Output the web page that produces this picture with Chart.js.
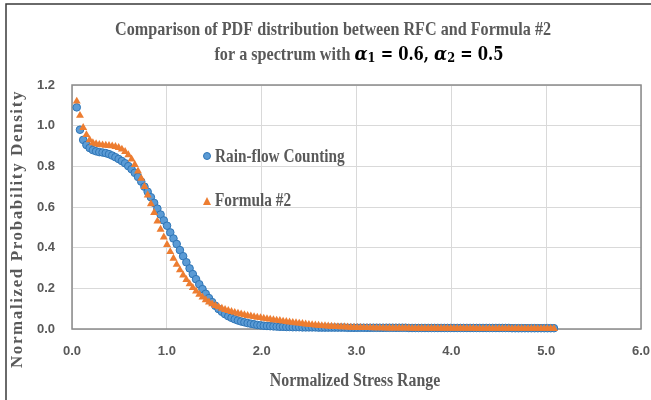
<!DOCTYPE html>
<html>
<head>
<meta charset="utf-8">
<script src="https://cdn.jsdelivr.net/npm/chart.js@4"></script>
<style>
html,body{margin:0;padding:0;background:#fff}
</style>
</head>
<body>
<canvas id="grafico" width="651" height="400"></canvas>
<script>
// normalized stress range (bin centres)
const stressRange = [
  0.050,0.084,0.118,0.152,0.186,0.220,0.254,0.288,0.322,0.356,
  0.390,0.424,0.458,0.492,0.526,0.560,0.594,0.628,0.662,0.696,
  0.730,0.764,0.798,0.832,0.866,0.900,0.934,0.968,1.002,1.036,
  1.070,1.104,1.138,1.172,1.206,1.240,1.274,1.308,1.342,1.376,
  1.410,1.444,1.478,1.512,1.546,1.580,1.614,1.648,1.682,1.716,
  1.750,1.784,1.818,1.852,1.886,1.920,1.954,1.988,2.022,2.056,
  2.090,2.124,2.158,2.192,2.226,2.260,2.294,2.328,2.362,2.396,
  2.430,2.464,2.498,2.532,2.566,2.600,2.634,2.668,2.702,2.736,
  2.770,2.804,2.838,2.872,2.906,2.940,2.974,3.008,3.042,3.076,
  3.110,3.144,3.178,3.212,3.246,3.280,3.314,3.348,3.382,3.416,
  3.450,3.484,3.518,3.552,3.586,3.620,3.654,3.688,3.722,3.756,
  3.790,3.824,3.858,3.892,3.926,3.960,3.994,4.028,4.062,4.096,
  4.130,4.164,4.198,4.232,4.266,4.300,4.334,4.368,4.402,4.436,
  4.470,4.504,4.538,4.572,4.606,4.640,4.674,4.708,4.742,4.776,
  4.810,4.844,4.878,4.912,4.946,4.980,5.014,5.048,5.082
];

// Rain-flow Counting
const rainflow = [
  1.090,0.980,0.930,0.905,0.890,0.880,0.874,0.870,0.868,0.865,
  0.860,0.853,0.845,0.836,0.826,0.815,0.801,0.786,0.768,0.748,
  0.725,0.700,0.675,0.648,0.620,0.592,0.563,0.534,0.508,0.475,
  0.445,0.418,0.388,0.358,0.328,0.298,0.270,0.245,0.220,0.196,
  0.173,0.152,0.132,0.114,0.098,0.085,0.073,0.063,0.055,0.048,
  0.042,0.037,0.033,0.029,0.026,0.023,0.020,0.018,0.016,0.015,
  0.014,0.013,0.012,0.011,0.011,0.010,0.010,0.009,0.009,0.009,
  0.008,0.008,0.008,0.008,0.008,0.007,0.007,0.007,0.007,0.007,
  0.007,0.007,0.007,0.007,0.006,0.006,0.006,0.006,0.006,0.006,
  0.006,0.006,0.006,0.006,0.006,0.006,0.006,0.006,0.006,0.006,
  0.006,0.006,0.006,0.005,0.005,0.005,0.005,0.005,0.005,0.005,
  0.005,0.005,0.005,0.005,0.005,0.005,0.005,0.005,0.005,0.005,
  0.005,0.005,0.005,0.005,0.005,0.005,0.005,0.005,0.005,0.005,
  0.005,0.005,0.005,0.005,0.005,0.004,0.004,0.004,0.004,0.004,
  0.004,0.004,0.004,0.004,0.004,0.004,0.004,0.004,0.004
];

// Formula #2
const formula2 = [
  1.120,1.050,0.990,0.955,0.930,0.915,0.910,0.907,0.905,0.903,
  0.902,0.900,0.897,0.892,0.884,0.872,0.856,0.835,0.808,0.776,
  0.740,0.700,0.658,0.615,0.572,0.530,0.490,0.452,0.415,0.380,
  0.347,0.317,0.290,0.265,0.243,0.222,0.203,0.186,0.170,0.156,
  0.143,0.132,0.123,0.115,0.108,0.101,0.095,0.090,0.085,0.081,
  0.077,0.073,0.069,0.066,0.063,0.060,0.057,0.055,0.052,0.050,
  0.048,0.045,0.043,0.041,0.038,0.036,0.034,0.032,0.030,0.028,
  0.026,0.024,0.022,0.021,0.019,0.018,0.016,0.015,0.014,0.013,
  0.012,0.011,0.010,0.010,0.009,0.008,0.008,0.007,0.007,0.006,
  0.006,0.006,0.005,0.005,0.005,0.005,0.004,0.004,0.004,0.004,
  0.004,0.004,0.004,0.004,0.003,0.003,0.003,0.003,0.003,0.003,
  0.003,0.003,0.003,0.003,0.003,0.003,0.003,0.003,0.003,0.003,
  0.003,0.003,0.003,0.003,0.002,0.002,0.002,0.002,0.002,0.002,
  0.002,0.002,0.002,0.002,0.002,0.002,0.002,0.002,0.002,0.002,
  0.002,0.002,0.002,0.002,0.002,0.002,0.002,0.002,0.002
];

const seriesNames = ['Rain-flow Counting', 'Formula #2'];
const titleLine1 = 'Comparison of PDF distribution between RFC and Formula #2';
const xTitle = 'Normalized Stress Range';
const yTitle = 'Normalized Probability Density';

const GRAY = '#595959';
const BLUE = '#5b9bd5';
const BLUE_EDGE = '#2e75b6';
const ORANGE = '#ed7d31';
const SERIF = '"Liberation Serif", "Times New Roman", serif';
const TICKFONT = '"Liberation Sans", Arial, sans-serif';

function toPoints(ys) {
    return stressRange.map((x, i) => ({x: x, y: ys[i]}));
}

// draw runs of text (condensed by sx) centred on cx
function drawRuns(ctx, runs, cx, cy) {
    let total = 0;
    runs.forEach(r => {
        ctx.font = r.font;
        r.w = ctx.measureText(r.text).width * r.sx;
        total += r.w;
    });
    let x = cx - total / 2;
    runs.forEach(r => {
        ctx.save();
        ctx.font = r.font;
        ctx.fillStyle = r.color;
        ctx.textBaseline = 'middle';
        ctx.textAlign = 'left';
        ctx.translate(x, cy + (r.dy || 0));
        ctx.scale(r.sx, 1);
        ctx.fillText(r.text, 0, 0);
        ctx.restore();
        x += r.w;
    });
}

const decoraciones = {
    id: 'decoraciones',
    beforeDatasetsDraw(chart) {
        const ctx = chart.ctx;
        const a = chart.chartArea;
        ctx.save();
        ctx.strokeStyle = '#8a8a8a';
        ctx.lineWidth = 1.5;
        ctx.strokeRect(a.left, a.top, a.right - a.left, a.bottom - a.top);
        ctx.restore();
    },
    afterDraw(chart) {
        const ctx = chart.ctx;
        // outer frame
        ctx.save();
        ctx.strokeStyle = '#3a3a3a';
        ctx.lineWidth = 1.5;
        ctx.beginPath();
        ctx.moveTo(6, 400);
        ctx.lineTo(6, 4);
        ctx.lineTo(651, 4);
        ctx.stroke();
        ctx.restore();

        // title
        const tf = 'bold 19px ' + SERIF;
        drawRuns(ctx, [{text: titleLine1, font: tf, color: GRAY, sx: 0.85}], 333, 30);
        const mf = 'bold 18px "DejaVu Serif", serif';
        const mi = 'bold italic 18px "DejaVu Serif", serif';
        const ms = 'bold 12px "DejaVu Serif", serif';
        drawRuns(ctx, [
            {text: 'for a spectrum with ', font: tf, color: GRAY, sx: 0.85},
            {text: 'α', font: mi, color: '#000', sx: 0.95},
            {text: '1', font: ms, color: '#000', sx: 0.95, dy: 4},
            {text: ' = 0.6, ', font: mf, color: '#000', sx: 0.82},
            {text: 'α', font: mi, color: '#000', sx: 0.95},
            {text: '2', font: ms, color: '#000', sx: 0.95, dy: 4},
            {text: ' = 0.5', font: mf, color: '#000', sx: 0.82}
        ], 359, 55);

        // x axis title
        drawRuns(ctx, [{text: xTitle, font: 'bold 18px ' + SERIF, color: GRAY, sx: 0.88}], 355, 381);

        // y axis title
        ctx.save();
        ctx.translate(18, 229);
        ctx.rotate(-Math.PI / 2);
        ctx.font = 'bold 17px ' + SERIF;
        ctx.letterSpacing = '1.6px';
        ctx.fillStyle = GRAY;
        ctx.textAlign = 'center';
        ctx.textBaseline = 'middle';
        ctx.fillText(yTitle, 0, 0);
        ctx.restore();

        // legend inside plot
        ctx.save();
        ctx.fillStyle = BLUE;
        ctx.strokeStyle = BLUE_EDGE;
        ctx.lineWidth = 1;
        ctx.beginPath();
        ctx.arc(207, 156, 3.5, 0, Math.PI * 2);
        ctx.fill();
        ctx.stroke();
        ctx.fillStyle = ORANGE;
        ctx.beginPath();
        ctx.moveTo(207, 197);
        ctx.lineTo(211, 205);
        ctx.lineTo(203, 205);
        ctx.closePath();
        ctx.fill();
        ctx.restore();
        const lf = 'bold 18px ' + SERIF;
        ctx.font = lf;
        const w1 = ctx.measureText(seriesNames[0]).width * 0.85;
        const w2 = ctx.measureText(seriesNames[1]).width * 0.85;
        drawRuns(ctx, [{text: seriesNames[0], font: lf, color: GRAY, sx: 0.85}], 215 + w1 / 2, 157);
        drawRuns(ctx, [{text: seriesNames[1], font: lf, color: GRAY, sx: 0.85}], 215 + w2 / 2, 201);
    }
};

const ctx = document.getElementById('grafico');

new Chart(ctx, {
    type: 'scatter',
    data: {
        datasets: [{
            label: seriesNames[1],
            data: toPoints(formula2),
            pointStyle: 'triangle',
            pointRadius: 4.6,
            backgroundColor: ORANGE,
            borderColor: ORANGE,
            borderWidth: 0,
            clip: false
        }, {
            label: seriesNames[0],
            data: toPoints(rainflow),
            pointStyle: 'circle',
            pointRadius: 3.8,
            backgroundColor: BLUE,
            borderColor: BLUE_EDGE,
            borderWidth: 1,
            clip: false
        }]
    },
    options: {
        responsive: false,
        animation: false,
        devicePixelRatio: 1,
        layout: {
            padding: {left: 6, top: 85, right: 0, bottom: 0}
        },
        plugins: {
            legend: {display: false},
            title: {display: false},
            tooltip: {enabled: false}
        },
        scales: {
            x: {
                type: 'linear',
                min: 0,
                max: 6,
                afterFit: s => {
                    s.height = 71;
                    s.paddingLeft = 0;
                    s.paddingRight = 10;
                },
                ticks: {
                    stepSize: 1,
                    padding: 15,
                    color: GRAY,
                    font: {family: TICKFONT, size: 13, weight: 'bold'},
                    callback: v => v.toFixed(1)
                },
                grid: {color: '#d9d9d9', drawTicks: false},
                border: {display: false}
            },
            y: {
                min: 0,
                max: 1.2,
                afterFit: s => { s.width = 66; },
                ticks: {
                    stepSize: 0.2,
                    padding: 17,
                    color: GRAY,
                    font: {family: TICKFONT, size: 13, weight: 'bold'},
                    callback: v => v.toFixed(1)
                },
                grid: {color: '#d9d9d9', drawTicks: false},
                border: {display: false}
            }
        }
    },
    plugins: [decoraciones]
});
</script>
</body>
</html>
